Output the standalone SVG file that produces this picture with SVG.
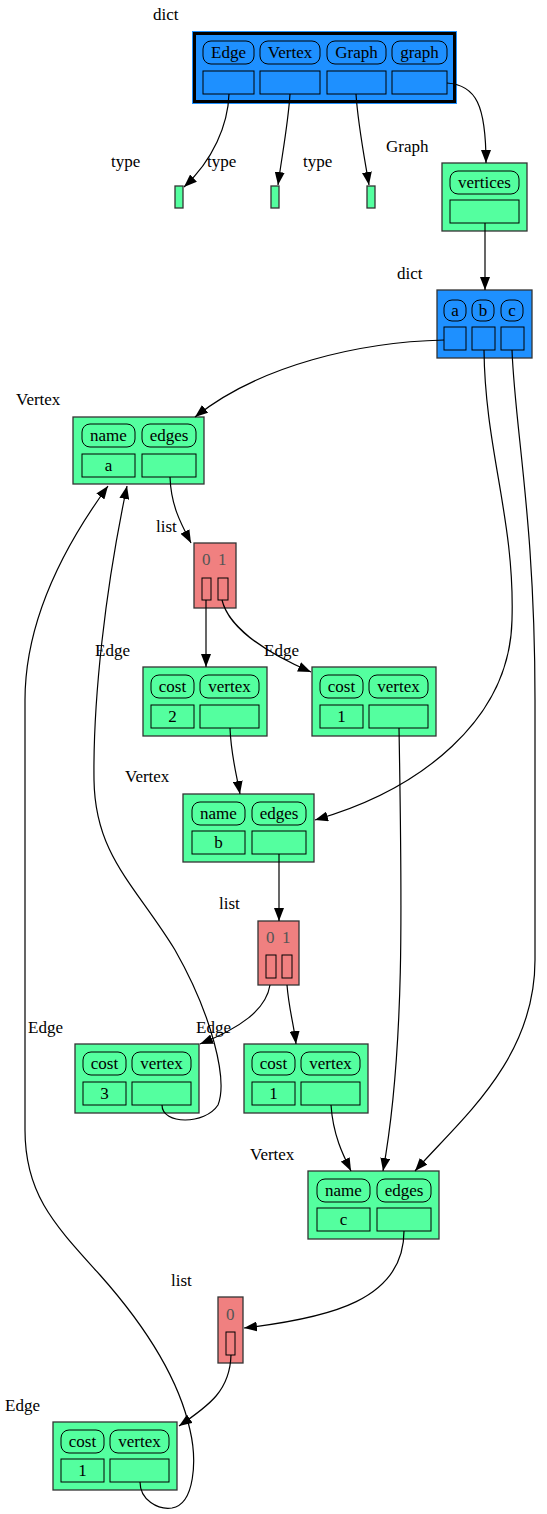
<svg xmlns="http://www.w3.org/2000/svg" width="547" height="1514" viewBox="0 0 547 1514">
<style>
text{font-family:"Liberation Serif","Times New Roman",serif;font-size:17px;fill:#000}
.c{text-anchor:middle}
.g{fill:#54ff9f;stroke:#333;stroke-width:1.3}
.r{fill:#f08080;stroke:#333;stroke-width:1.3}
.b{fill:#1e90ff}
.p{fill:none;stroke:#000;stroke-width:1}
.idx{fill:#555}
.e path{fill:none;stroke:#000;stroke-width:1.2;marker-end:url(#ah)}
</style>
<defs>
<marker id="ah" markerUnits="userSpaceOnUse" markerWidth="13" markerHeight="10" refX="13" refY="5" orient="auto">
<path d="M0,0 L13,5 L0,10 z" fill="#000"/>
</marker>
</defs>
<rect width="547" height="1514" fill="#fff"/>

<g id="labels">
<text x="153" y="20">dict</text>
<text x="111" y="167">type</text>
<text x="207" y="167">type</text>
<text x="303" y="167">type</text>
<text x="386" y="152">Graph</text>
<text x="397" y="279">dict</text>
<text x="16" y="405">Vertex</text>
<text x="156" y="532">list</text>
<text x="95" y="656">Edge</text>
<text x="264" y="656">Edge</text>
<text x="125" y="782">Vertex</text>
<text x="219" y="909">list</text>
<text x="28" y="1033">Edge</text>
<text x="196" y="1033">Edge</text>
<text x="250" y="1160">Vertex</text>
<text x="171" y="1286">list</text>
<text x="5" y="1411">Edge</text>
</g>

<g id="dict_top">
<rect class="b" x="192" y="31" width="265" height="73"/>
<rect x="194.5" y="33.5" width="260" height="68" fill="none" stroke="#000" stroke-width="3"/>
<rect class="p" x="203" y="41" width="51" height="23" rx="8"/>
<rect class="p" x="260" y="41" width="60" height="23" rx="8"/>
<rect class="p" x="327" y="41" width="59" height="23" rx="8"/>
<rect class="p" x="392" y="41" width="55" height="23" rx="8"/>
<text class="c" x="228.5" y="58">Edge</text>
<text class="c" x="290" y="58">Vertex</text>
<text class="c" x="356.5" y="58">Graph</text>
<text class="c" x="419.5" y="58">graph</text>
<rect class="p" x="203" y="71" width="51" height="23"/>
<rect class="p" x="260" y="71" width="60" height="23"/>
<rect class="p" x="327" y="71" width="59" height="23"/>
<rect class="p" x="392" y="71" width="55" height="23"/>
</g>

<g id="type1"><rect class="g" x="175" y="186" width="8" height="22"/></g>
<g id="type2"><rect class="g" x="271" y="186" width="8" height="22"/></g>
<g id="type3"><rect class="g" x="367" y="186" width="8" height="22"/></g>

<g id="graph">
<rect class="g" x="442" y="163" width="85" height="68"/>
<rect class="p" x="450" y="171" width="69" height="23" rx="8"/>
<text class="c" x="484.5" y="188">vertices</text>
<rect class="p" x="450" y="200" width="69" height="23"/>
</g>

<g id="dict_abc">
<rect class="b" x="437" y="290" width="95" height="68" stroke="#333" stroke-width="1.3"/>
<rect class="p" x="444" y="300" width="22" height="21" rx="8"/>
<rect class="p" x="472" y="300" width="22" height="21" rx="8"/>
<rect class="p" x="501" y="300" width="22" height="21" rx="8"/>
<text class="c" x="455" y="316">a</text>
<text class="c" x="483" y="316">b</text>
<text class="c" x="512" y="316">c</text>
<rect class="p" x="444" y="327" width="22" height="23"/>
<rect class="p" x="472" y="327" width="23" height="23"/>
<rect class="p" x="501" y="327" width="23" height="23"/>
</g>

<g id="vertex_a">
<rect class="g" x="73" y="417" width="131" height="67"/>
<rect class="p" x="82" y="424" width="53" height="23" rx="8"/>
<rect class="p" x="142" y="424" width="54" height="23" rx="8"/>
<text class="c" x="108.5" y="441">name</text>
<text class="c" x="169" y="441">edges</text>
<rect class="p" x="82" y="454" width="53" height="23"/>
<rect class="p" x="142" y="454" width="54" height="23"/>
<text class="c" x="108.5" y="471">a</text>
</g>

<g id="list1">
<rect class="r" x="194" y="543" width="42" height="65"/>
<text class="idx" x="202" y="565">0</text>
<text class="idx" x="218" y="565">1</text>
<rect class="p" x="202" y="578" width="9" height="22"/>
<rect class="p" x="218" y="578" width="10" height="22"/>
</g>

<g id="edge1">
<rect class="g" x="143" y="667" width="124" height="69"/>
<rect class="p" x="151" y="675" width="43" height="23" rx="8"/>
<rect class="p" x="200" y="675" width="59" height="23" rx="8"/>
<text class="c" x="172.5" y="692">cost</text>
<text class="c" x="229.5" y="692">vertex</text>
<rect class="p" x="151" y="705" width="43" height="23"/>
<rect class="p" x="200" y="705" width="59" height="23"/>
<text class="c" x="172.5" y="722">2</text>
</g>

<g id="edge2">
<rect class="g" x="312" y="667" width="124" height="69"/>
<rect class="p" x="320" y="675" width="43" height="23" rx="8"/>
<rect class="p" x="369" y="675" width="59" height="23" rx="8"/>
<text class="c" x="341.5" y="692">cost</text>
<text class="c" x="398.5" y="692">vertex</text>
<rect class="p" x="320" y="705" width="43" height="23"/>
<rect class="p" x="369" y="705" width="59" height="23"/>
<text class="c" x="341.5" y="722">1</text>
</g>

<g id="vertex_b">
<rect class="g" x="183" y="794" width="131" height="68"/>
<rect class="p" x="192" y="802" width="53" height="23" rx="8"/>
<rect class="p" x="252" y="802" width="54" height="23" rx="8"/>
<text class="c" x="218.5" y="819">name</text>
<text class="c" x="279" y="819">edges</text>
<rect class="p" x="192" y="831" width="53" height="23"/>
<rect class="p" x="252" y="831" width="54" height="23"/>
<text class="c" x="218.5" y="848">b</text>
</g>

<g id="list2">
<rect class="r" x="258" y="921" width="41" height="64"/>
<text class="idx" x="266" y="943">0</text>
<text class="idx" x="282" y="943">1</text>
<rect class="p" x="266" y="955" width="10" height="23"/>
<rect class="p" x="282" y="955" width="10" height="23"/>
</g>

<g id="edge3">
<rect class="g" x="75" y="1044" width="124" height="69"/>
<rect class="p" x="83" y="1052" width="43" height="23" rx="8"/>
<rect class="p" x="132" y="1052" width="59" height="23" rx="8"/>
<text class="c" x="104.5" y="1069">cost</text>
<text class="c" x="161.5" y="1069">vertex</text>
<rect class="p" x="83" y="1082" width="43" height="23"/>
<rect class="p" x="132" y="1082" width="59" height="23"/>
<text class="c" x="104.5" y="1099">3</text>
</g>

<g id="edge4">
<rect class="g" x="244" y="1044" width="124" height="69"/>
<rect class="p" x="252" y="1052" width="43" height="23" rx="8"/>
<rect class="p" x="301" y="1052" width="59" height="23" rx="8"/>
<text class="c" x="273.5" y="1069">cost</text>
<text class="c" x="330.5" y="1069">vertex</text>
<rect class="p" x="252" y="1082" width="43" height="23"/>
<rect class="p" x="301" y="1082" width="59" height="23"/>
<text class="c" x="273.5" y="1099">1</text>
</g>

<g id="vertex_c">
<rect class="g" x="308" y="1171" width="131" height="68"/>
<rect class="p" x="317" y="1179" width="53" height="23" rx="8"/>
<rect class="p" x="377" y="1179" width="54" height="23" rx="8"/>
<text class="c" x="343.5" y="1196">name</text>
<text class="c" x="404" y="1196">edges</text>
<rect class="p" x="317" y="1208" width="53" height="23"/>
<rect class="p" x="377" y="1208" width="54" height="23"/>
<text class="c" x="343.5" y="1225">c</text>
</g>

<g id="list3">
<rect class="r" x="218" y="1297" width="25" height="66"/>
<text class="idx" x="226" y="1320">0</text>
<rect class="p" x="226" y="1332" width="9" height="23"/>
</g>

<g id="edge5">
<rect class="g" x="53" y="1422" width="124" height="68"/>
<rect class="p" x="61" y="1430" width="43" height="23" rx="8"/>
<rect class="p" x="110" y="1430" width="59" height="23" rx="8"/>
<text class="c" x="82.5" y="1447">cost</text>
<text class="c" x="139.5" y="1447">vertex</text>
<rect class="p" x="61" y="1459" width="43" height="23"/>
<rect class="p" x="110" y="1459" width="59" height="23"/>
<text class="c" x="82.5" y="1476">1</text>
</g>

<g id="connectors" class="e">
<path d="M229,94 C228,125 213,160 184,187"/>
<path d="M290,94 C288,125 282,155 278,185"/>
<path d="M356,94 C358,125 364,155 369,185"/>
<path d="M447,83 C476,85 486,105 486,163"/>
<path d="M485,223 L485,290"/>
<path d="M444,340 C360,342 260,365 195,417"/>
<path d="M484,350 C485,450 515,520 512,620 C510,720 420,790 315,820"/>
<path d="M512,350 C515,430 535,520 535,700 L535,960 C535,1060 460,1120 415,1171"/>
<path d="M170,477 C171,505 180,522 191,543"/>
<path d="M206,600 L206,667"/>
<path d="M222,600 C228,625 260,650 311,672"/>
<path d="M230,728 C231,755 236,772 240,794"/>
<path d="M399,728 C402,900 405,1050 383,1171"/>
<path d="M279,854 L279,921"/>
<path d="M270,985 C266,1010 240,1028 200,1044"/>
<path d="M287,985 C289,1010 294,1025 296,1044"/>
<path d="M162,1105 C162,1125 205,1125 218,1105 C228,1080 212,1015 175,950 C135,885 95,855 94,780 C93,700 105,590 127,486"/>
<path d="M331,1105 C333,1135 343,1155 351,1171"/>
<path d="M404,1231 C404,1300 330,1318 244,1328"/>
<path d="M231,1355 C230,1390 210,1405 179,1426"/>
<path d="M140,1482 C140,1500 158,1510 172,1508 C195,1504 197,1460 190,1430 C178,1375 140,1320 100,1275 C55,1225 25,1195 25,1130 L25,700 C25,620 65,545 108,486"/>
</g>
</svg>
